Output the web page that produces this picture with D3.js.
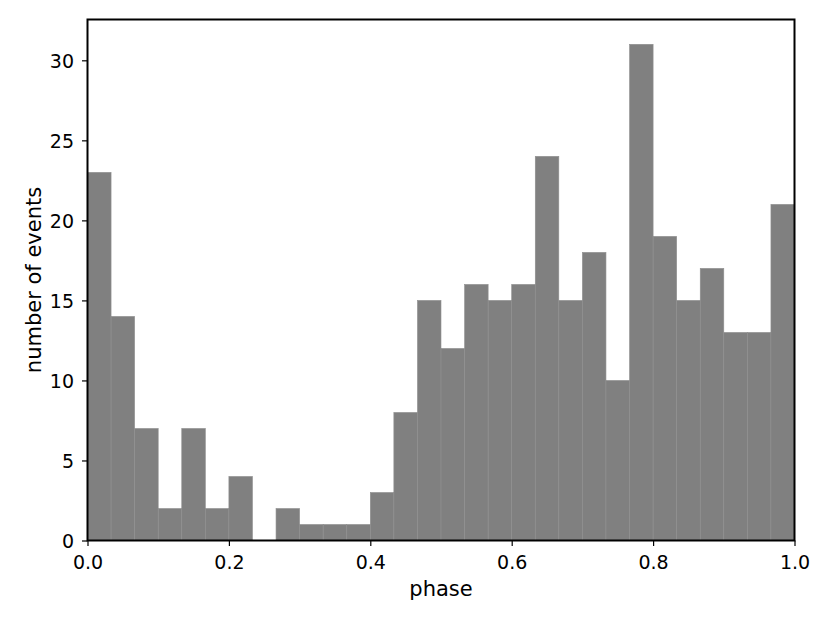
<!DOCTYPE html>
<html><head><meta charset="utf-8">
<script src="https://cdn.jsdelivr.net/npm/d3@7"></script>
<style>body{margin:0;background:#fff}svg{display:block}text{font-family:"DejaVu Sans",sans-serif;fill:#000}</style>
</head><body>
<svg id="c" width="830" height="623"></svg>
<script>
const binEdgesStart = 0, binEdgesEnd = 1, binCount = 30;
const counts = [23,14,7,2,7,2,4,0,2,1,1,1,3,8,15,12,16,15,16,24,15,18,10,31,19,15,17,13,13,21];
const xTicks = [0,0.2,0.4,0.6,0.8,1.0];
const yTicks = [0,5,10,15,20,25,30];
const xLabel = "phase", yLabel = "number of events";

const svg = d3.select("#c");
const m = {l:87.5, r:794.5, t:19.5, b:540.5};
const x = d3.scaleLinear().domain([binEdgesStart, binEdgesEnd]).range([m.l, m.r]);
const y = d3.scaleLinear().domain([0, 31*1.05]).range([m.b, m.t]);
const w = (binEdgesEnd-binEdgesStart)/binCount;
const bins = counts.map((c,i)=>({x0:binEdgesStart+i*w, x1:binEdgesStart+(i+1)*w, c}));

svg.append("g").selectAll("rect").data(bins).join("rect")
  .attr("x", d=>x(d.x0)).attr("width", d=>x(d.x1)-x(d.x0))
  .attr("y", d=>y(d.c)).attr("height", d=>y(0)-y(d.c))
  .attr("fill","#808080").attr("stroke","#8f8f8f").attr("stroke-width",0.6);

const xa = svg.append("g").attr("transform",`translate(0,${m.b})`)
  .call(d3.axisBottom(x).tickValues(xTicks).tickFormat(d3.format(".1f")).tickSizeOuter(0).tickSize(5.5).tickPadding(5));
const ya = svg.append("g").attr("transform",`translate(${m.l},0)`)
  .call(d3.axisLeft(y).tickValues(yTicks).tickFormat(d3.format("d")).tickSizeOuter(0).tickSize(5.5).tickPadding(8));
[xa,ya].forEach(a=>{
  a.select(".domain").remove();
  a.selectAll("line").attr("stroke","#000").attr("stroke-width",1.2);
  a.selectAll("text").attr("font-size",19).style("font-family","DejaVu Sans");
});
xa.selectAll("text").attr("y",28).attr("dy",0);
ya.selectAll("text").attr("dy","0.38em");
svg.append("rect").attr("x",m.l).attr("y",m.t).attr("width",m.r-m.l).attr("height",m.b-m.t)
  .attr("fill","none").attr("stroke","#000").attr("stroke-width",2);

svg.append("text").attr("x",(m.l+m.r)/2).attr("y",596).attr("text-anchor","middle").attr("font-size",21).text(xLabel);
svg.append("text").attr("transform",`translate(41,280) rotate(-90)`).attr("text-anchor","middle").attr("font-size",21).text(yLabel);
</script>
</body></html>
